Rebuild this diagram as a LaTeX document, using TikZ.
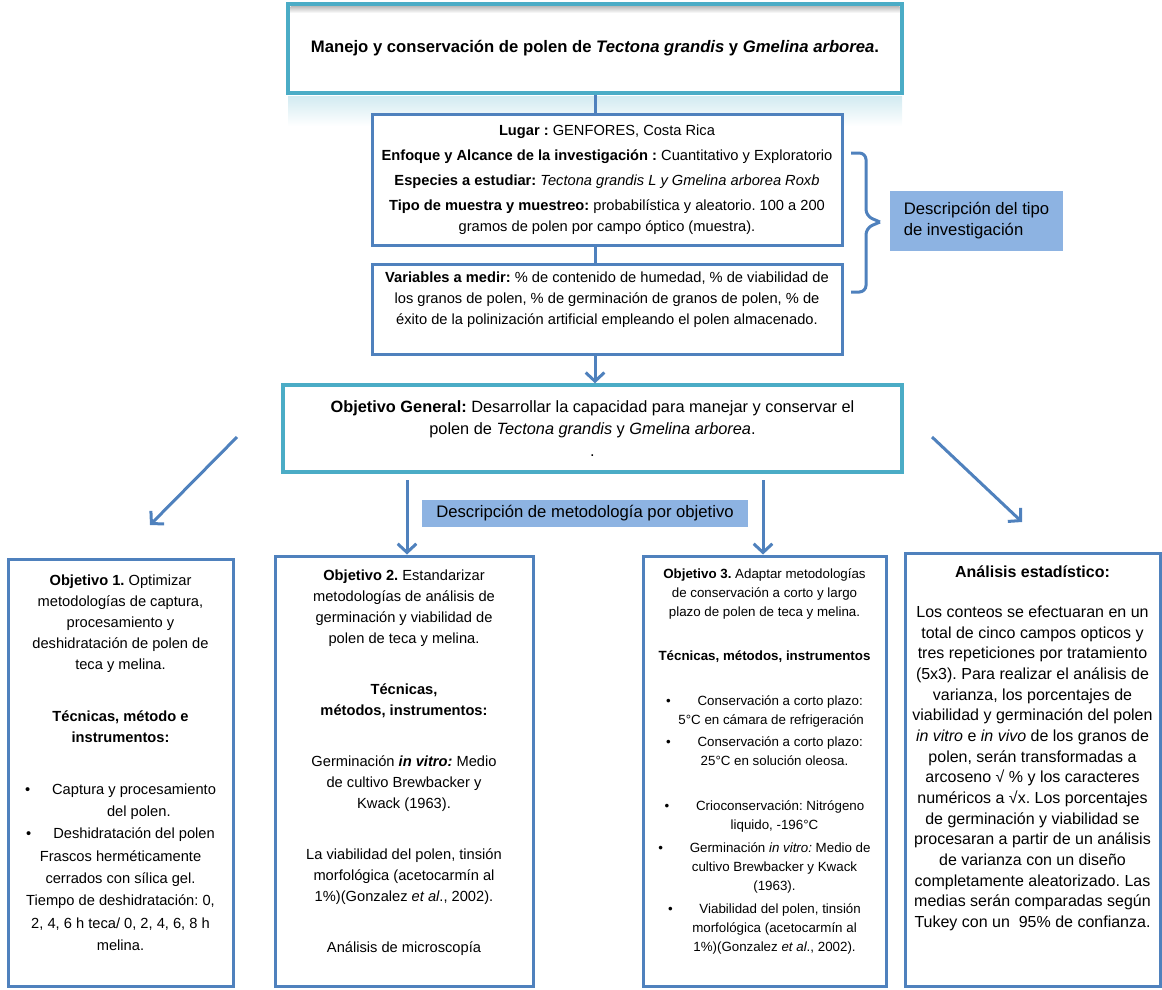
\documentclass[tikz,border=0pt]{standalone}
\usepackage{fontspec}
\setmainfont{Liberation Sans}
\usepackage{tikz}
\frenchspacing
\definecolor{tealb}{RGB}{75,172,198}
\definecolor{blueln}{RGB}{79,129,189}
\definecolor{tagfill}{RGB}{141,179,226}
\tikzstyle{headbox}=[rectangle,draw=tealb,line width=3pt,fill=white,inner sep=0pt,
align=center,font=\fontsize{12.5}{16.5}\selectfont]
\tikzstyle{infobox}=[rectangle,draw=blueln,line width=2.25pt,fill=white,inner sep=0pt]
\tikzstyle{tagbox}=[rectangle,fill=tagfill,inner sep=0pt,align=left,
font=\fontsize{12.5}{15.75}\selectfont]
\tikzstyle{body}=[inner sep=0pt,align=center,font=\fontsize{11}{15.75}\selectfont]
\tikzstyle{smallbody}=[inner sep=0pt,align=center,font=\fontsize{10}{14.25}\selectfont]
\tikzstyle{link}=[draw=blueln,line width=2.25pt]
\tikzstyle{flow}=[draw=blueln,line width=2.25pt,-{Straight Barb[length=6.5pt,width=14pt]}]
\tikzstyle{bracketline}=[draw=blueln,line width=2.25pt,rounded corners=5pt]
\usetikzlibrary{arrows.meta,positioning}

\begin{document}
\begin{tikzpicture}[x=0.75pt,y=-0.75pt]
  \useasboundingbox (0,0) rectangle (1162,989);

  % title and its reflection
  \shade[top color=tealb!25,bottom color=white] (288,96) rectangle (902,126);
  \node[headbox,minimum width=460.5pt,minimum height=66.75pt] (title) at (595,48.5)
    {\textbf{Manejo y conservación de polen de \textit{Tectona grandis} y \textit{Gmelina arborea}.}};
  \shade[top color=black!25,bottom color=white] (290.5,6.5) rectangle (899.5,13);

  % type of research
  \node[infobox,minimum width=352.5pt,minimum height=98.25pt,align=center,
    font=\fontsize{11}{15.75}\selectfont] (info) at (607,179.5)
    {\textbf{Lugar :} GENFORES, Costa Rica\\[3pt]
     \textbf{Enfoque y Alcance de la investigación :} Cuantitativo y Exploratorio\\[3pt]
     \textbf{Especies a estudiar:} \textit{Tectona grandis L y Gmelina arborea Roxb}\\[3pt]
     \textbf{Tipo de muestra y muestreo:} probabilística y aleatorio. 100 a 200\\
     gramos de polen por campo óptico (muestra).};
  \node[infobox,minimum width=352.5pt,minimum height=67.5pt] (vars) at (607,309) {};
  \node[body,below=7pt of vars.north] (varstxt)
    {\textbf{Variables a medir:} \% de contenido de humedad, \% de viabilidad de\\
     los granos de polen, \% de germinación de granos de polen, \% de\\
     éxito de la polinización artificial empleando el polen almacenado.};

  \draw[link] (title.south) -- (title.south |- info.north);
  \draw[link] (title.south |- info.south) -- (title.south |- vars.north);

  \coordinate (bt) at (851,153);
  \coordinate (bm) at (880,222);
  \coordinate (bb) at (851,292);
  \draw[bracketline] (bt) -- (866,153) -- (866,216) -- (bm);
  \draw[bracketline] (bb) -- (866,292) -- (866,228) -- (bm);
  \node[tagbox,minimum width=129.75pt,minimum height=45pt] (tagtype) at (976.5,221)
    {Descripción del tipo\\de investigación};

  % general objective
  \node[headbox,line width=2.6pt,minimum width=464.25pt,minimum height=65.25pt,
    font=\fontsize{12.25}{16.5}\selectfont] (goal) at (592.5,428.5)
    {\textbf{Objetivo General:} Desarrollar la capacidad para manejar y conservar el\\
     polen de \textit{Tectona grandis} y \textit{Gmelina arborea}.\\ .};
  \draw[flow] (vars.south -| title.south) -- (title.south |- goal.north);

  % objectives
  \node[infobox,minimum width=168.75pt,minimum height=320.25pt] (o1) at (120.5,772.5) {};
  \node[infobox,minimum width=193.5pt,minimum height=322.5pt] (o2) at (404,771) {};
  \node[infobox,minimum width=182.25pt,minimum height=322.5pt] (o3) at (764.5,771) {};
  \node[infobox,minimum width=191.25pt,minimum height=324.75pt] (o4) at (1032.5,769.5) {};

  \coordinate (gl) at (237,437);
  \coordinate (o1a) at (150,525);
  \coordinate (gr) at (932,437);
  \coordinate (o4a) at (1022,522);
  \coordinate (g2) at (407,480);
  \coordinate (g3) at (763,480);
  \draw[flow] (gl) -- (o1a);
  \draw[flow] (gr) -- (o4a);
  \draw[flow] (g2) -- (g2 |- o2.north);
  \draw[flow] (g3) -- (g3 |- o3.north);

  \node[tagbox,minimum width=244.5pt,minimum height=20.25pt] (tagmeth) at (585,513.5)
    {Descripción de metodología por objetivo};

  \node[body,below=13pt of o1.north] (o1txt)
    {\textbf{Objetivo 1.} Optimizar\\
     metodologías de captura,\\
     procesamiento y\\
     deshidratación de polen de\\
     teca y melina.\\[23pt]
     \textbf{Técnicas, método e}\\
     \textbf{instrumentos:}\\[23pt]
     \textbullet\hspace{1.5em}Captura y procesamiento\\[1pt]
     \hspace{2.5em}del polen.\\[1pt]
     \textbullet\hspace{1.5em}Deshidratación del polen\\[1pt]
     Frascos herméticamente\\[1pt]
     cerrados con sílica gel.\\[1pt]
     Tiempo de deshidratación: 0,\\[1pt]
     2, 4, 6 h teca/ 0, 2, 4, 6, 8 h\\[1pt]
     melina.};

  \node[body,below=11.6pt of o2.north] (o2txt)
    {\textbf{Objetivo 2.} Estandarizar\\
     metodologías de análisis de\\
     germinación y viabilidad de\\
     polen de teca y melina.\\[22pt]
     \textbf{Técnicas,}\\
     \textbf{métodos, instrumentos:}\\[22.5pt]
     Germinación \textbf{\textit{in vitro:}} Medio\\
     de cultivo Brewbacker y\\
     Kwack (1963).\\[23pt]
     La viabilidad del polen, tinsión\\
     morfológica (acetocarmín al\\
     1\%)(Gonzalez \textit{et al}., 2002).\\[22.5pt]
     Análisis de microscopía};

  \node[smallbody,below=10.5pt of o3.north] (o3txt)
    {\textbf{Objetivo 3.} Adaptar metodologías\\
     de conservación a corto y largo\\
     plazo de polen de teca y melina.\\[18.75pt]
     \textbf{Técnicas, métodos, instrumentos}\\[19.5pt]
     \textbullet\hspace{2em}Conservación a corto plazo:\\
     \hspace{1em}5°C en cámara de refrigeración\\[2pt]
     \textbullet\hspace{2em}Conservación a corto plazo:\\
     \hspace{1.5em}25°C en solución oleosa.\\[19.5pt]
     \textbullet\hspace{2em}Crioconservación: Nitrógeno\\
     \hspace{1.5em}liquido, -196°C\\[3pt]
     \textbullet\hspace{2em}Germinación \textit{in vitro:} Medio de\\
     \hspace{1.5em}cultivo Brewbacker y Kwack\\
     \hspace{1.5em}(1963).\\[3pt]
     \textbullet\hspace{2em}Viabilidad del polen, tinsión\\
     \hspace{1.5em}morfológica (acetocarmín al\\
     \hspace{1.5em}1\%)(Gonzalez \textit{et al}., 2002).};

  \node[body,font=\fontsize{12}{15.5}\selectfont,below=10.5pt of o4.north] (o4txt)
    {\textbf{Análisis estadístico:}\\[14.5pt]
     Los conteos se efectuaran en un\\
     total de cinco campos opticos y\\
     tres repeticiones por tratamiento\\
     (5x3). Para realizar el análisis de\\
     varianza, los porcentajes de\\
     viabilidad y germinación del polen\\
     \textit{in vitro} e \textit{in vivo} de los granos de\\
     polen, serán transformadas a\\
     arcoseno √ \% y los caracteres\\
     numéricos a √x. Los porcentajes\\
     de germinación y viabilidad se\\
     procesaran a partir de un análisis\\
     de varianza con un diseño\\
     completamente aleatorizado. Las\\
     medias serán comparadas según\\
     Tukey con un\ \ 95\% de confianza.};
\end{tikzpicture}
\end{document}
